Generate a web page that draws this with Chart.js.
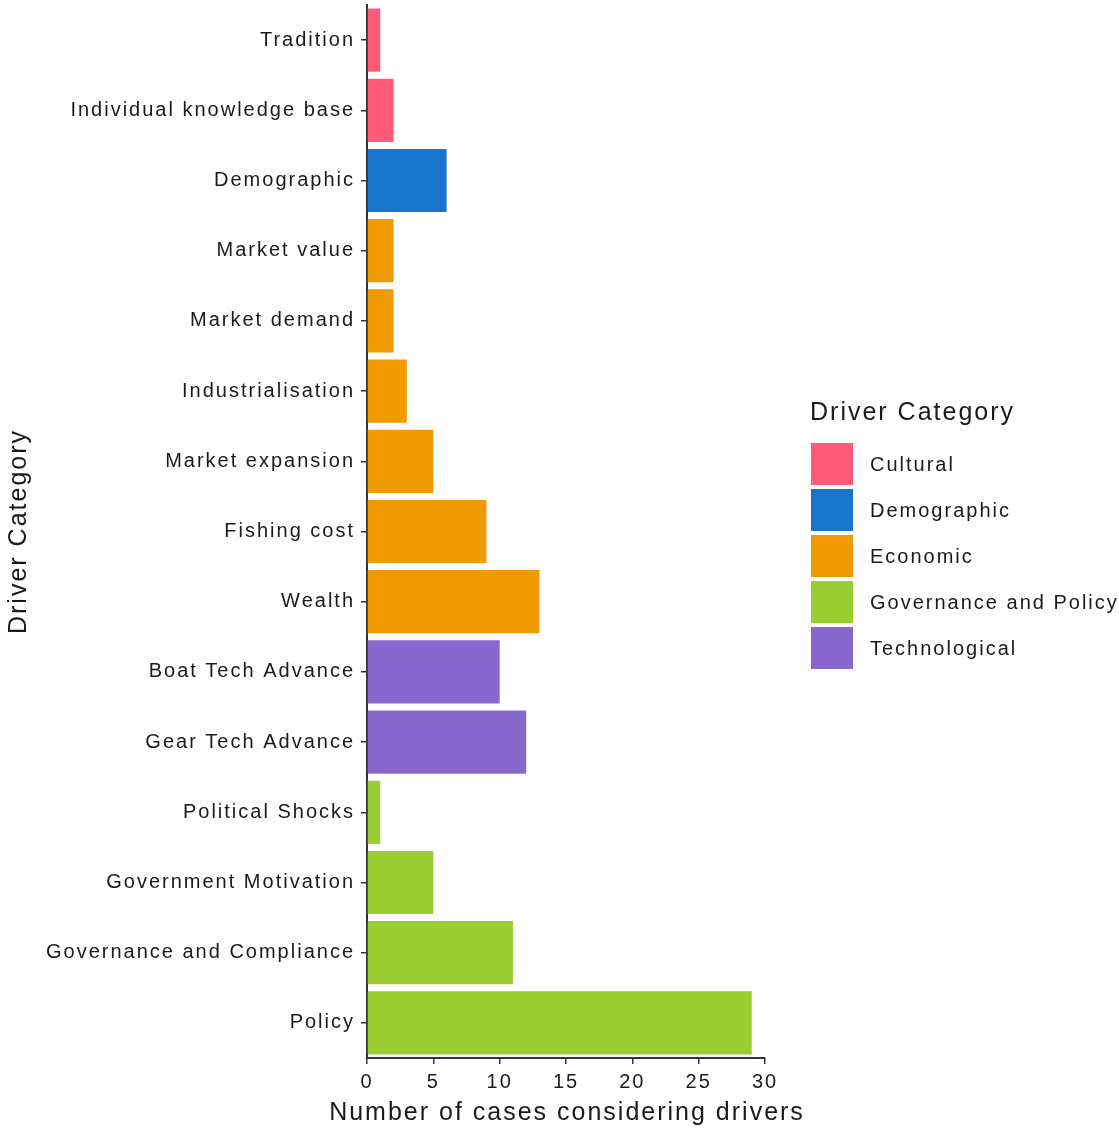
<!DOCTYPE html>
<html>
<head>
<meta charset="utf-8">
<script src="https://cdn.jsdelivr.net/npm/chart.js@4/dist/chart.umd.min.js"></script>
<style>
  html, body { margin: 0; padding: 0; background: #fff; }
  #wrap { position: relative; width: 1119px; height: 1130px; }
  #c { position: absolute; left: 0; top: 0; }
  #legend { position: absolute; left: 810px; top: 394px; font-family: "Liberation Sans", Arial, sans-serif; color: #1a1a1a; letter-spacing: 2px; }
  #legend .title { font-size: 25px; height: 34px; line-height: 34px; margin-bottom: 13px; white-space: nowrap; }
  #legend .item { display: flex; align-items: center; height: 46px; }
  #legend .box { width: 44px; height: 44px; box-sizing: border-box; border: 1px solid #fff; margin-right: 16px; }
  #legend .lab { font-size: 20px; white-space: nowrap; }
</style>
</head>
<body>
<div id="wrap">
  <canvas id="c" width="1119" height="1130"></canvas>
  <div id="legend"></div>
</div>
<script>
const categories = ["Tradition", "Individual knowledge base", "Demographic", "Market value", "Market demand",
  "Industrialisation", "Market expansion", "Fishing cost", "Wealth", "Boat Tech Advance",
  "Gear Tech Advance", "Political Shocks", "Government Motivation", "Governance and Compliance", "Policy"];
const values = [1, 2, 6, 2, 2, 3, 5, 9, 13, 10, 12, 1, 5, 11, 29];
const groups = ["Cultural", "Cultural", "Demographic", "Economic", "Economic",
  "Economic", "Economic", "Economic", "Economic", "Technological",
  "Technological", "Governance and Policy", "Governance and Policy", "Governance and Policy", "Governance and Policy"];
const groupNames = ["Cultural", "Demographic", "Economic", "Governance and Policy", "Technological"];
const groupColors = ["#FF5A78", "#1874CD", "#EE9A00", "#9ACD32", "#8968CD"];
const xTicks = [0, 5, 10, 15, 20, 25, 30];
const xTitle = "Number of cases considering drivers";
const yTitle = "Driver Category";

const colorOf = g => groupColors[groupNames.indexOf(g)];
const FONT = "'Liberation Sans', Arial, sans-serif";

const spacingPlugin = {
  id: 'spacing',
  beforeDraw(chart) { chart.ctx.letterSpacing = '2px'; },
  afterDraw(chart) {
    // x-axis title, wider than the plot area, centred on it
    const ctx = chart.ctx;
    const a = chart.chartArea;
    ctx.save();
    ctx.letterSpacing = '2px';
    ctx.font = "25px " + FONT;
    ctx.fillStyle = '#1a1a1a';
    ctx.textAlign = 'center';
    ctx.textBaseline = 'middle';
    ctx.fillText(xTitle, (a.left + a.right) / 2 + 1, 1113);
    ctx.restore();
  }
};

new Chart(document.getElementById('c'), {
  type: 'bar',
  data: {
    labels: categories,
    datasets: [{
      label: 'Number of cases',
      data: values,
      backgroundColor: groups.map(colorOf),
      borderWidth: 0,
      barPercentage: 0.9,
      categoryPercentage: 1.0
    }]
  },
  plugins: [spacingPlugin],
  options: {
    indexAxis: 'y',
    responsive: false,
    animation: false,
    layout: { padding: { top: 5, right: 354, bottom: 2, left: 4 } },
    plugins: { legend: { display: false }, tooltip: { enabled: false } },
    scales: {
      x: {
        min: 0, max: 30,
        afterBuildTicks: s => { s.ticks = xTicks.map(v => ({ value: v })); },
        afterFit: s => { s.height = 70; s.paddingLeft = 0; s.paddingRight = 0; },
        grid: { drawOnChartArea: false, drawTicks: true, tickLength: 6, color: '#333', lineWidth: 1.5 },
        border: { display: true, color: '#333', width: 2 },
        ticks: { color: '#1a1a1a', font: { family: FONT, size: 20 }, padding: 6, maxRotation: 0 },
        title: { display: false }
      },
      y: {
        afterFit: s => { s.width = 363; s.paddingTop = 0; s.paddingBottom = 0; },
        grid: { offset: false, drawOnChartArea: false, drawTicks: true, tickLength: 6, color: '#333', lineWidth: 1.5 },
        border: { display: true, color: '#333', width: 2 },
        ticks: { color: '#1a1a1a', font: { family: FONT, size: 20 }, padding: 6, autoSkip: false },
        title: { display: true, text: yTitle, color: '#1a1a1a',
                 font: { family: FONT, size: 25 }, padding: { top: 0, bottom: 0 } }
      }
    }
  }
});

const leg = document.getElementById('legend');
let html = '<div class="title">' + yTitle + '</div>';
groupNames.forEach((g, i) => {
  html += '<div class="item"><div class="box" style="background:' + groupColors[i] + '"></div><div class="lab">' + g + '</div></div>';
});
leg.innerHTML = html;
</script>
</body>
</html>
